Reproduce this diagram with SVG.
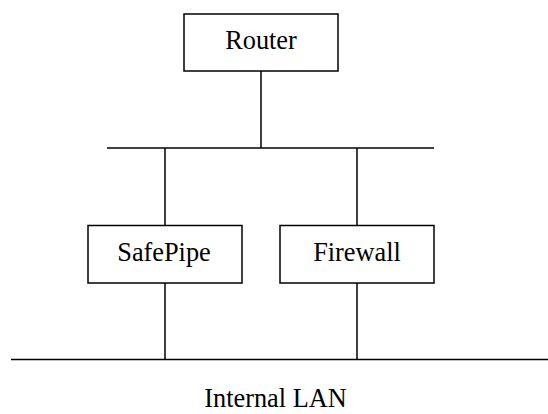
<svg xmlns="http://www.w3.org/2000/svg" width="548" height="414" viewBox="0 0 548 414">
<style>
.box{fill:#fff;stroke:#000;stroke-width:1.5}
.ln{stroke:#000;stroke-width:1.5;fill:none}
.t{font-family:"Liberation Serif","Times New Roman",serif;font-size:26.3px;fill:#000;text-anchor:middle}
</style>
<rect width="548" height="414" fill="#fff"/>
<g id="connectors">
<line class="ln" x1="261" y1="71" x2="261" y2="148"/>
<line class="ln" x1="107" y1="148" x2="434" y2="148"/>
<line class="ln" x1="165" y1="148" x2="165" y2="225"/>
<line class="ln" x1="357" y1="148" x2="357" y2="225"/>
<line class="ln" x1="165" y1="283" x2="165" y2="359.5"/>
<line class="ln" x1="357" y1="283" x2="357" y2="359.5"/>
<line class="ln" x1="11" y1="359.5" x2="548" y2="359.5"/>
</g>
<g id="router">
<rect class="box" x="184" y="14" width="154" height="57"/>
<text class="t" x="261" y="49">Router</text>
</g>
<g id="safepipe">
<rect class="box" x="88" y="225.5" width="154" height="57.5"/>
<text class="t" x="164" y="261">SafePipe</text>
</g>
<g id="firewall">
<rect class="box" x="280" y="225.5" width="154" height="57.5"/>
<text class="t" x="357" y="260.5">Firewall</text>
</g>
<g id="lan-label">
<text class="t" x="275.5" y="407">Internal LAN</text>
</g>
</svg>
